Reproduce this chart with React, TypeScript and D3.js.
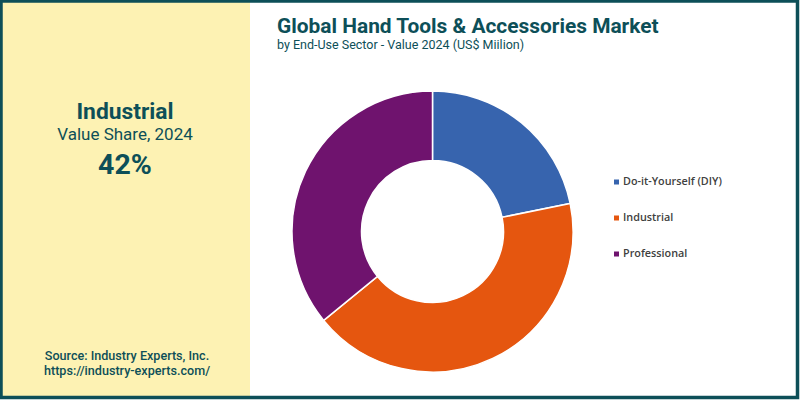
import React from "react";
import * as d3 from "d3";

const categories = ["Do-it-Yourself (DIY)", "Industrial", "Professional"];
const shares = [21.8, 42.3, 35.9];
const colors = ["#3764ae", "#e5560f", "#6f136e"];

const title = "Global Hand Tools & Accessories Market";
const subtitle = "by End-Use Sector - Value 2024 (US$ Miilion)";
const highlightName = "Industrial";
const highlightLabel = "Value Share, 2024";
const highlightValue = "42%";
const sourceLines = ["Source: Industry Experts, Inc.", "https://industry-experts.com/"];

const W = 800;
const H = 400;
const teal = "#0d4f58";

export default function App() {
  const cx = 432.5;
  const cy = 231.5;
  const outerR = 140.5;
  const innerR = 71;
  const pie = d3.pie<number>().sort(null).value((d) => d);
  const arcs = pie(shares);
  const arc = d3.arc<d3.PieArcDatum<number>>().innerRadius(innerR).outerRadius(outerR);
  const legendY = d3.scalePoint<string>().domain(categories).range([185, 257]);

  return (
    <svg width={W} height={H} style={{ position: "absolute", left: 0, top: 0 }}>
      <rect x={0} y={0} width={W} height={H} fill="#ffffff" />
      <rect x={2} y={2} width={248} height={395} fill="#fdf2b3" />
      <rect x={1} y={1} width={W - 3.5} height={H - 3.5} fill="none" stroke={teal} strokeWidth={3.5} />
      <g fontFamily="Roboto" fill={teal} textAnchor="middle">
        <text x={125} y={119} fontSize={22.8} fontWeight={700}>{highlightName}</text>
        <text x={125} y={140} fontSize={17}>{highlightLabel}</text>
        <text x={125} y={174} fontSize={28.5} fontWeight={700}>{highlightValue}</text>
        {sourceLines.map((s, i) => (
          <text key={i} x={127} y={360 + i * 15} fontSize={12.6} fontWeight={500}>{s}</text>
        ))}
      </g>
      <text x={277} y={33} fontFamily="Roboto" fontSize={20.9} fontWeight={700} fill={teal}>{title}</text>
      <text x={277} y={49} fontFamily="Roboto" fontSize={12.5} fill={teal}>{subtitle}</text>
      <g transform={`translate(${cx},${cy})`}>
        {arcs.map((a, i) => (
          <path key={i} d={arc(a) || ""} fill={colors[i]} stroke="#ffffff" strokeWidth={1.5} />
        ))}
      </g>
      <g fontFamily="'Open Sans'" fontSize={10.8} fontWeight={600} fill="#404040">
        {categories.map((c, i) => (
          <g key={c}>
            <rect x={614} y={(legendY(c) || 0) - 5.5} width={5} height={5} fill={colors[i]} />
            <text x={623} y={legendY(c) || 0}>{c}</text>
          </g>
        ))}
      </g>
    </svg>
  );
}
